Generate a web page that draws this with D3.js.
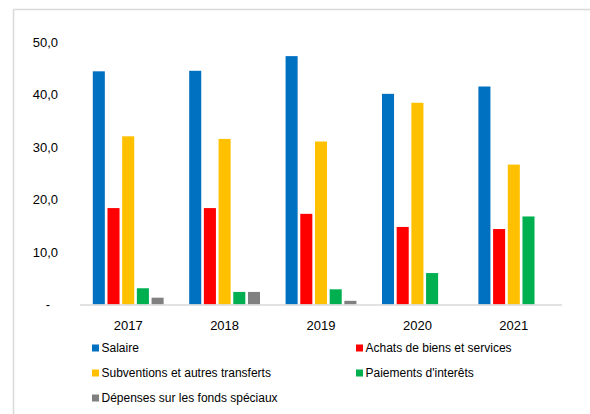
<!DOCTYPE html>
<html>
<head>
<meta charset="utf-8">
<script src="https://cdn.jsdelivr.net/npm/d3@7"></script>
<style>
  html, body { margin: 0; padding: 0; background: #fff; }
  svg { display: block; }
  text { font-family: "Liberation Sans", Arial, sans-serif; fill: #000; }
</style>
</head>
<body>
<script>
const years = ["2017", "2018", "2019", "2020", "2021"];
const seriesNames = [
  "Salaire",
  "Achats de biens et services",
  "Subventions et autres transferts",
  "Paiements d'interêts",
  "Dépenses sur les fonds spéciaux"
];
const salaire      = [44.5, 44.6, 47.4, 40.2, 41.6];
const achats       = [18.4, 18.4, 17.3, 14.8, 14.4];
const subventions  = [32.1, 31.6, 31.1, 38.5, 26.7];
const interets     = [3.1, 2.4, 2.9, 6.0, 16.8];
const fondsSpeciaux= [1.3, 2.4, 0.7, 0, 0];
const yTicks = [0, 10, 20, 30, 40, 50];
const yTickLabels = ["-", "10,0", "20,0", "30,0", "40,0", "50,0"];
const colors = ["#0070C0", "#FF0000", "#FFC000", "#00B050", "#808080"];

const seriesValues = [salaire, achats, subventions, interets, fondsSpeciaux];

const W = 590, H = 414;
const svg = d3.select("body").append("svg").attr("width", W).attr("height", H);

// frame lines
svg.append("line").attr("x1", 13.5).attr("x2", W).attr("y1", 9.5).attr("y2", 9.5)
  .attr("stroke", "#d9d9d9").attr("stroke-width", 1.5);
svg.append("line").attr("x1", 13.5).attr("x2", 13.5).attr("y1", 9.5).attr("y2", H)
  .attr("stroke", "#d9d9d9").attr("stroke-width", 1.5);

const x0 = d3.scaleBand().domain(years).range([80, 562]);
const x1 = d3.scaleBand().domain(seriesNames).range([0, x0.bandwidth()])
  .paddingInner(0.18).paddingOuter(0.87);
const y = d3.scaleLinear().domain([0, 50]).range([304.5, 42.5]);

// bars
const groups = svg.append("g").selectAll("g").data(years).join("g")
  .attr("transform", d => `translate(${x0(d)},0)`);
groups.selectAll("rect")
  .data((yr, i) => seriesNames.map((s, j) => ({ s, j, v: seriesValues[j][i] })))
  .join("rect")
  .attr("x", d => x1(d.s))
  .attr("width", x1.bandwidth())
  .attr("y", d => y(d.v))
  .attr("height", d => y(0) - y(d.v))
  .attr("fill", d => colors[d.j]);

// x axis line
svg.append("line").attr("x1", 80).attr("x2", 562).attr("y1", 305).attr("y2", 305)
  .attr("stroke", "#d9d9d9").attr("stroke-width", 1.5);

// x labels
svg.append("g").selectAll("text").data(years).join("text")
  .attr("x", d => x0(d) + x0.bandwidth() / 2)
  .attr("y", 330)
  .attr("text-anchor", "middle")
  .attr("font-size", 13)
  .text(d => d);

// y labels
svg.append("g").selectAll("text").data(yTicks).join("text")
  .attr("x", (d, i) => i === 0 ? 50 : 58)
  .attr("y", d => y(d) + 4.5)
  .attr("text-anchor", "end")
  .attr("font-size", 13)
  .text((d, i) => yTickLabels[i]);

// legend
const legendPos = [[92, 348], [356, 348], [92, 373], [356, 373], [92, 398]];
const lg = svg.append("g").selectAll("g").data(seriesNames).join("g")
  .attr("transform", (d, i) => `translate(${legendPos[i][0]},${legendPos[i][1]})`);
lg.append("rect").attr("x", 0).attr("y", -3.5).attr("width", 7).attr("height", 7)
  .attr("fill", (d, i) => colors[i]);
lg.append("text").attr("x", 9.5).attr("y", 4.3).attr("font-size", 12)
  .text(d => d);
</script>
</body>
</html>
